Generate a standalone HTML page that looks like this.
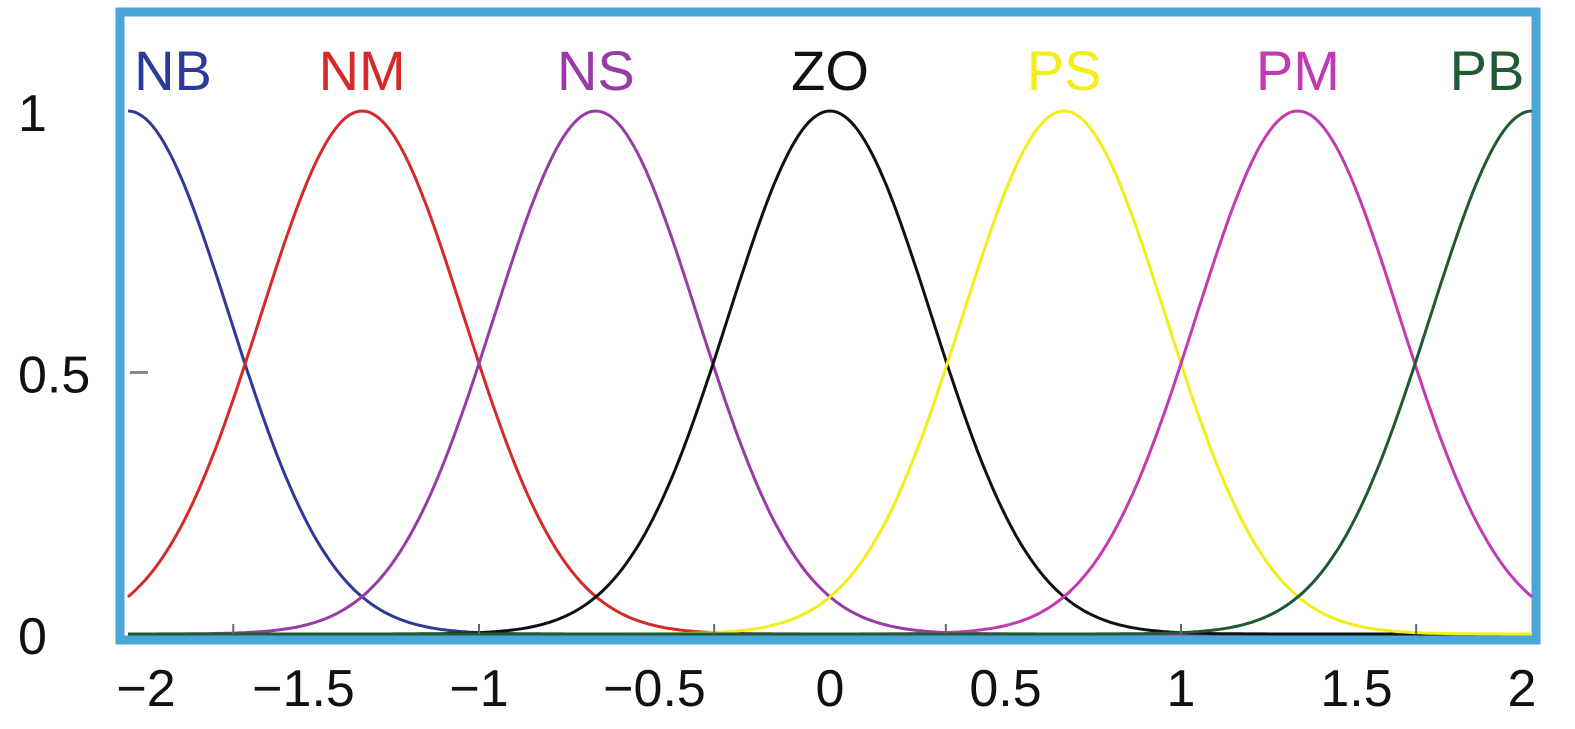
<!DOCTYPE html>
<html><head><meta charset="utf-8"><style>
body{margin:0;background:#fff;width:1575px;height:724px;overflow:hidden}
svg text{font-family:"Liberation Sans",sans-serif}
</style></head><body>
<svg id="chart" width="1575" height="724" viewBox="0 0 1575 724" xmlns="http://www.w3.org/2000/svg">
<rect x="120" y="12" width="1416" height="628" fill="#fff" stroke="#4aa6d8" stroke-width="9"/>
<g id="curves"></g>
<g id="labels"></g>
<g id="axes"></g>
</svg>
<script>
const setNames = ["NB","NM","NS","ZO","PS","PM","PB"];
const setCenters = [-2, -1.333, -0.667, 0, 0.667, 1.333, 2];
const setColors = ["#2e3a9a","#d42a2a","#9a3aa8","#111111","#f2ee1a","#c23ab4","#1f5a32"];
const sigma = 0.29;
const xTicks = [-2,-1.5,-1,-0.5,0,0.5,1,1.5,2];
const xTickLabels = ["\u22122","\u22121.5","\u22121","\u22120.5","0","0.5","1","1.5","2"];
const yTicks = [0,0.5,1];
const yTickLabels = ["0","0.5","1"];
const tickMarks = [-1.7,-1.0,-0.33,0.33,1.0,1.67];

const X0=128, X1=1532, Y0=634, Y1=111;
const xs = v => X0 + (v+2)/4*(X1-X0);
const ys = v => Y0 + v*(Y1-Y0);
const NS="http://www.w3.org/2000/svg";
const curves=document.getElementById('curves'), labels=document.getElementById('labels'), axes=document.getElementById('axes');

setNames.forEach((n,i)=>{
  let d="";
  for(let k=0;k<=400;k++){
    const x=-2+4*k/400;
    const y=Math.exp(-Math.pow(x-setCenters[i],2)/(2*sigma*sigma));
    d+=(k?"L":"M")+xs(x).toFixed(1)+","+ys(y).toFixed(1);
  }
  const p=document.createElementNS(NS,'path');
  p.setAttribute('d',d);p.setAttribute('fill','none');p.setAttribute('stroke',setColors[i]);p.setAttribute('stroke-width','3');
  
  
  curves.appendChild(p);
  const t=document.createElementNS(NS,'text');
  let cx=xs(setCenters[i]); if(i===0) cx+=45; if(i===6) cx-=45;
  t.setAttribute('x',cx);t.setAttribute('y',90);t.setAttribute('text-anchor','middle');
  t.setAttribute('font-size','56');t.setAttribute('fill',setColors[i]);
  t.textContent=n;
  
  
  labels.appendChild(t);
});
tickMarks.forEach(v=>{
  const l=document.createElementNS(NS,'line');
  l.setAttribute('x1',xs(v));l.setAttribute('x2',xs(v));l.setAttribute('y1',624);l.setAttribute('y2',634);
  l.setAttribute('stroke','#666');l.setAttribute('stroke-width','2');
  
  
  axes.appendChild(l);
});
xTicks.forEach((v,i)=>{
  const t=document.createElementNS(NS,'text');
  let x=xs(v); if(i===0) x+=18; if(i===xTicks.length-1) x-=10;
  t.setAttribute('x',x);t.setAttribute('y',706);t.setAttribute('text-anchor','middle');t.setAttribute('font-size','52');t.setAttribute('fill','#111');
  t.textContent=xTickLabels[i];
  
  
  axes.appendChild(t);
});
yTicks.forEach((v,i)=>{
  const t=document.createElementNS(NS,'text');
  t.setAttribute('x',18);t.setAttribute('y',ys(v)+20);t.setAttribute('text-anchor','start');t.setAttribute('font-size','52');t.setAttribute('fill','#111');
  t.textContent=yTickLabels[i];
  
  
  axes.appendChild(t);
});
const m=document.createElementNS(NS,'line');
m.setAttribute('x1',130);m.setAttribute('x2',148);m.setAttribute('y1',ys(0.5));m.setAttribute('y2',ys(0.5));m.setAttribute('stroke','#888');m.setAttribute('stroke-width','3');


axes.appendChild(m);
</script>
</body></html>
